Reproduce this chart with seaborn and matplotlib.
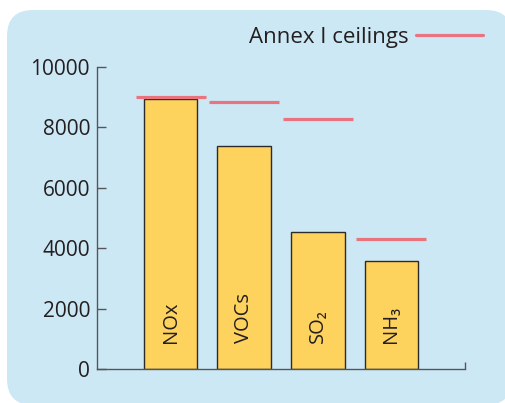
import matplotlib
matplotlib.use("Agg")
import matplotlib.pyplot as plt
from matplotlib.patches import FancyBboxPatch
from matplotlib.lines import Line2D
from matplotlib.transforms import IdentityTransform
import seaborn as sns
import pandas as pd

# data
pollutants = ["NOx", "VOCs", "SO₂", "NH₃"]
emissions = [8950, 7370, 4530, 3580]
ceilings = [9000, 8850, 8290, 4300]

BAR_COLOR = "#fdd25d"
CEIL_COLOR = "#e9737e"
BG_COLOR = "#cde8f5"
AXIS_COLOR = "#555555"
TEXT_COLOR = "#231f20"

sns.set_style("white")
plt.rcParams["font.family"] = ["Open Sans", "DejaVu Sans"]

df = pd.DataFrame({"pollutant": pollutants, "emission": emissions})

W, H = 505, 403
fig = plt.figure(figsize=(W / 100, H / 100), dpi=100)
fig.patch.set_facecolor("white")

# rounded light-blue panel behind the chart, in pixels
bg = FancyBboxPatch(
    (7, -2), 505, 395,
    boxstyle="round,pad=0,rounding_size=26",
    transform=IdentityTransform(), facecolor=BG_COLOR, edgecolor="none",
    zorder=0,
)
fig.patches.append(bg)

ax = fig.add_axes([97 / W, 34 / H, 368 / W, 302 / H])
ax.set_zorder(2)
ax.set_facecolor("none")

sns.barplot(
    data=df, x="pollutant", y="emission", ax=ax, width=0.73,
    color=BAR_COLOR, edgecolor="#2b2b2b", linewidth=1.0, saturation=1,
)

# Annex I ceilings as short horizontal lines above each bar
xpos = list(range(len(pollutants)))
ax.hlines(
    ceilings, [x - 0.475 for x in xpos], [x + 0.475 for x in xpos],
    color=CEIL_COLOR, linewidth=2.3, zorder=5,
)

# rotated labels inside bars
for x, name in zip(xpos, pollutants):
    ax.text(x, 850, name, rotation=90, ha="center", va="bottom",
            fontsize=14.5, color=TEXT_COLOR)

ax.set_xlim(-1, 4)
ax.set_ylim(0, 10000)
ax.set_yticks([0, 2000, 4000, 6000, 8000, 10000])
ax.set_xticks([4])
ax.set_xticklabels([""])
ax.set_xlabel("")
ax.set_ylabel("")
ax.tick_params(axis="y", left=True, direction="in", length=6.5, width=1,
               color=AXIS_COLOR, labelsize=15, labelcolor=TEXT_COLOR, pad=5)
ax.tick_params(axis="x", bottom=True, direction="in", length=5, width=1,
               color=AXIS_COLOR)
for side in ["top", "right"]:
    ax.spines[side].set_visible(False)
for side in ["left", "bottom"]:
    ax.spines[side].set_color(AXIS_COLOR)
    ax.spines[side].set_linewidth(1)

handle = Line2D([], [], color=CEIL_COLOR, linewidth=2.3)
ax.legend(
    [handle], ["Annex I ceilings"], loc="center right",
    bbox_to_anchor=(483 / W, 1 - 37 / H), bbox_transform=fig.transFigure,
    frameon=False, markerfirst=False, handlelength=3.0, handletextpad=0.35,
    borderpad=0, borderaxespad=0, prop={"size": 16}, labelcolor=TEXT_COLOR,
)

fig.savefig("out.png", dpi=100, facecolor="white")
